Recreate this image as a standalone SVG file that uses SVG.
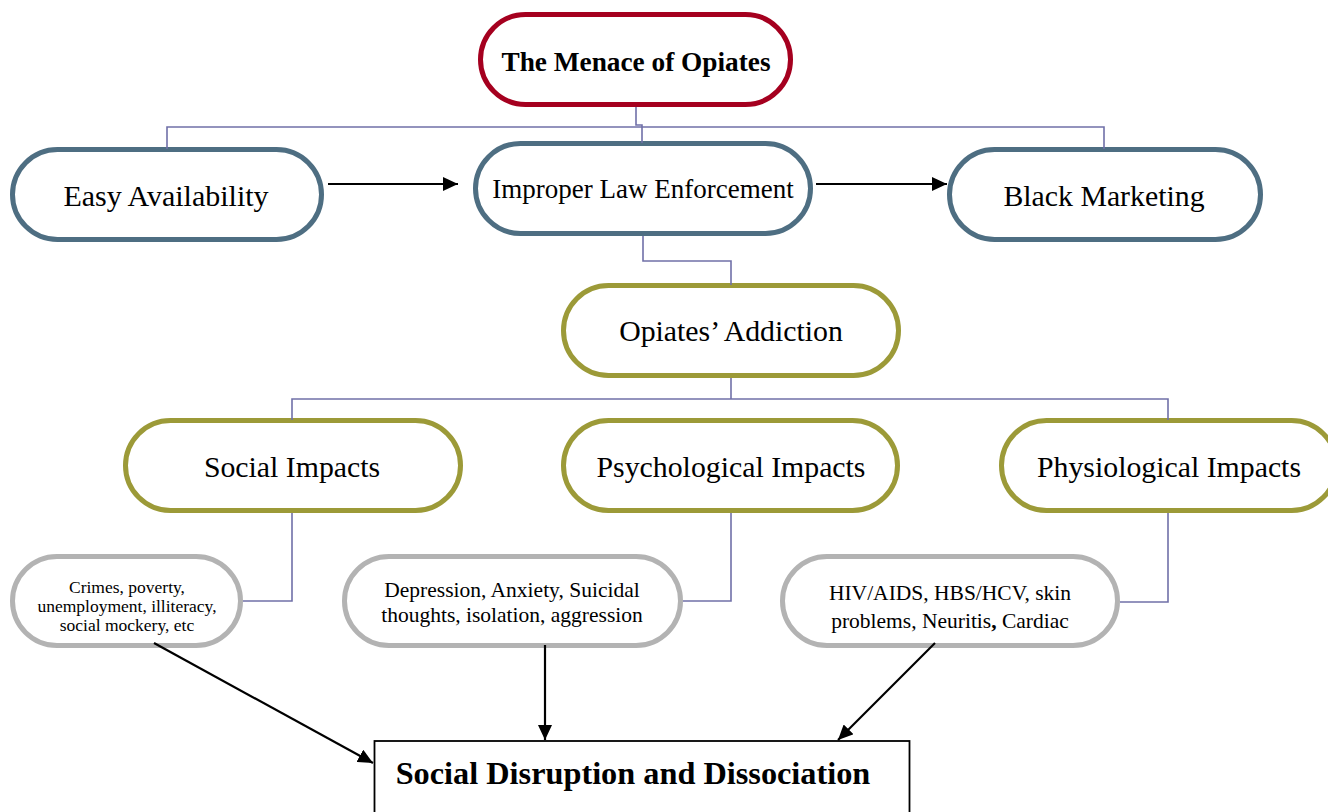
<svg xmlns="http://www.w3.org/2000/svg" width="1328" height="812" viewBox="0 0 1328 812">
<defs>
<marker id="ah" markerUnits="userSpaceOnUse" markerWidth="16" markerHeight="14" refX="15" refY="7" orient="auto">
<path d="M0,0 L15,7 L0,14 Z" fill="#000"/>
</marker>
<style>
.t{font-family:"Liberation Serif","Times New Roman",serif;fill:#000;text-anchor:middle}
.red{fill:#fff;stroke:#A5001F;stroke-width:5}
.blue{fill:#fff;stroke:#4E6E82;stroke-width:5}
.olive{fill:#fff;stroke:#9C9A38;stroke-width:5}
.grey{fill:#fff;stroke:#B3B3B3;stroke-width:5}
.link{fill:none;stroke:#7070A8;stroke-width:1.6}
.arrow{fill:none;stroke:#000;stroke-width:2.2;marker-end:url(#ah)}
</style>
</defs>
<rect width="1328" height="812" fill="#fff"/>
<g id="menace">
<rect class="red" x="480.5" y="14.5" width="310" height="90" rx="45"/>
<text class="t" x="636" y="71" font-size="27.3" font-weight="bold">The Menace of Opiates</text>
</g>
<g id="easy">
<rect class="blue" x="12.5" y="149.5" width="309" height="90" rx="45"/>
<text class="t" x="166" y="206" font-size="30">Easy Availability</text>
</g>
<g id="improper">
<rect class="blue" x="475.5" y="143.5" width="335" height="90" rx="45"/>
<text class="t" x="643" y="198" font-size="27">Improper Law Enforcement</text>
</g>
<g id="black">
<rect class="blue" x="949.5" y="149.5" width="311" height="90" rx="45"/>
<text class="t" x="1104" y="206" font-size="29.8">Black Marketing</text>
</g>
<g id="addiction">
<rect class="olive" x="563.5" y="285.5" width="335" height="90" rx="45"/>
<text class="t" x="731" y="341" font-size="29.8">Opiates’ Addiction</text>
</g>
<g id="social">
<rect class="olive" x="125.5" y="420.5" width="335" height="90" rx="45"/>
<text class="t" x="292" y="477" font-size="29.8">Social Impacts</text>
</g>
<g id="psych">
<rect class="olive" x="563.5" y="420.5" width="334" height="90" rx="45"/>
<text class="t" x="731" y="477" font-size="29.8">Psychological Impacts</text>
</g>
<g id="physio">
<rect class="olive" x="1001.5" y="420.5" width="335" height="90" rx="45"/>
<text class="t" x="1169" y="477" font-size="29.8">Physiological Impacts</text>
</g>
<g id="crimes">
<rect class="grey" x="12.5" y="556.5" width="228" height="89" rx="44.5"/>
<text class="t" x="127" font-size="17.5"><tspan x="127" y="593">Crimes, poverty,</tspan><tspan x="127" y="612">unemployment, illiteracy,</tspan><tspan x="127" y="631">social mockery, etc</tspan></text>
</g>
<g id="depression">
<rect class="grey" x="344.5" y="556.5" width="336" height="89" rx="44.5"/>
<text class="t" x="512" font-size="21.5"><tspan x="512" y="597">Depression, Anxiety, Suicidal</tspan><tspan x="512" y="622">thoughts, isolation, aggression</tspan></text>
</g>
<g id="hiv">
<rect class="grey" x="782.5" y="556.5" width="335" height="89" rx="44.5"/>
<text class="t" x="950" font-size="21.5"><tspan x="950" y="600">HIV/AIDS, HBS/HCV, skin</tspan><tspan x="950" y="628">problems, Neuritis<tspan font-weight="bold">,</tspan> Cardiac</tspan></text>
</g>
<g id="disruption">
<rect x="374.5" y="741" width="535" height="90" fill="#fff" stroke="#000" stroke-width="1.8"/>
<text class="t" x="633" y="784" font-size="32.3" font-weight="bold">Social Disruption and Dissociation</text>
</g>
<g id="connectors">
<path class="link" d="M636,107 V125 H642 V143"/>
<path class="link" d="M167,149 V127 H1104 V149"/>
<path class="link" d="M643,236 V261 H731 V285"/>
<path class="link" d="M731,378 V399"/>
<path class="link" d="M292,420 V399 H1168 V420"/>
<path class="link" d="M292,513 V601 H243"/>
<path class="link" d="M731,513 V601 H683"/>
<path class="link" d="M1168,513 V602 H1120"/>
<path class="arrow" d="M328,184 H458"/>
<path class="arrow" d="M816,184 H947"/>
<path class="arrow" d="M154,643 L373,763"/>
<path class="arrow" d="M545,645 V740"/>
<path class="arrow" d="M935,643 L838,740"/>
</g>
</svg>
